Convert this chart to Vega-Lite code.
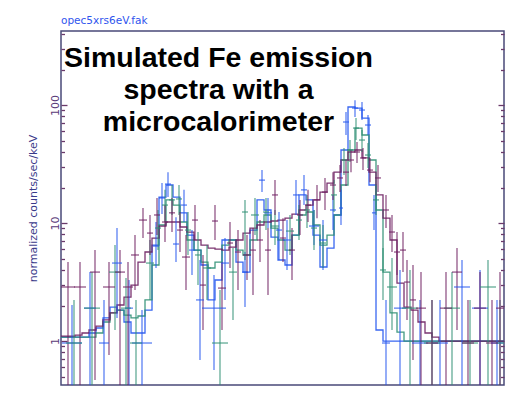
{
"$schema": "https://vega.github.io/schema/vega-lite/v6.json",
"width": 443, "height": 354,
"autosize": "none",
"padding": {"left": 61, "top": 31, "right": 18, "bottom": 30},
"background": "white",
"view": {"stroke": "#4a4a78", "strokeWidth": 1.5},
"title": {"text": "opec5xrs6eV.fak", "anchor": "start", "frame": "group", "color": "#2f55ee", "font": "DejaVu Sans", "fontSize": 10.5, "fontWeight": "normal", "offset": 5},
"config": {"axis": {"grid": false, "labelFont": "DejaVu Sans", "titleFont": "DejaVu Sans"}},
"resolve": {"axis": {"y": "independent"}},
"datasets": {
"model": [
{"e":6.5800,"b":1.08,"g":1.08,"p":1.10},
{"e":6.5828,"b":1.08,"g":1.08,"p":1.10},
{"e":6.5856,"b":1.08,"g":1.08,"p":1.12},
{"e":6.5884,"b":1.08,"g":1.08,"p":1.17},
{"e":6.5912,"b":1.17,"g":1.08,"p":1.24},
{"e":6.5940,"b":1.29,"g":1.17,"p":1.34},
{"e":6.5968,"b":1.57,"g":1.45,"p":1.51},
{"e":6.5996,"b":1.94,"g":1.73,"p":1.73},
{"e":6.6024,"b":1.83,"g":1.83,"p":2.02},
{"e":6.6052,"b":1.45,"g":1.66,"p":2.36},
{"e":6.6080,"b":1.17,"g":1.57,"p":2.98},
{"e":6.6108,"b":1.17,"g":1.63,"p":4.67},
{"e":6.6136,"b":1.83,"g":2.23,"p":5.68},
{"e":6.6164,"b":6.51,"g":4.41,"p":7.46},
{"e":6.6192,"b":16.6,"g":9.62,"p":9.43},
{"e":6.6220,"b":21.0,"g":15.7,"p":10.2},
{"e":6.6248,"b":16.6,"g":14.2,"p":10.2},
{"e":6.6276,"b":12.2,"g":10.2,"p":9.25},
{"e":6.6304,"b":7.91,"g":7.18,"p":8.39},
{"e":6.6332,"b":5.90,"g":5.90,"p":7.18},
{"e":6.6360,"b":4.41,"g":4.67,"p":6.51},
{"e":6.6388,"b":2.23,"g":4.16,"p":6.14},
{"e":6.6416,"b":3.29,"g":4.67,"p":6.02},
{"e":6.6444,"b":7.18,"g":6.51,"p":5.90},
{"e":6.6472,"b":7.18,"g":7.18,"p":6.26},
{"e":6.6500,"b":4.67,"g":5.90,"p":7.18},
{"e":6.6528,"b":3.84,"g":5.36,"p":8.22},
{"e":6.6556,"b":8.72,"g":7.18,"p":9.07},
{"e":6.6584,"b":15.7,"g":10.2,"p":9.62},
{"e":6.6612,"b":12.9,"g":11.7,"p":10.2},
{"e":6.6640,"b":7.61,"g":9.07,"p":10.4},
{"e":6.6668,"b":4.86,"g":7.18,"p":10.6},
{"e":6.6696,"b":4.41,"g":5.90,"p":11.0},
{"e":6.6724,"b":7.91,"g":7.91,"p":11.9},
{"e":6.6752,"b":17.3,"g":11.7,"p":12.9},
{"e":6.6780,"b":15.7,"g":12.4,"p":14.2},
{"e":6.6808,"b":7.91,"g":9.62,"p":15.7},
{"e":6.6836,"b":4.24,"g":6.51,"p":18.3},
{"e":6.6864,"b":6.14,"g":7.91,"p":21.8},
{"e":6.6892,"b":11.7,"g":11.7,"p":27.0},
{"e":6.6920,"b":41.6,"g":21.0,"p":34.2},
{"e":6.6948,"b":96.2,"g":41.6,"p":40.0},
{"e":6.6976,"b":94.3,"g":63.8,"p":41.6},
{"e":6.7004,"b":77.6,"g":55.7,"p":35.6},
{"e":6.7032,"b":21.0,"g":34.2,"p":27.0},
{"e":6.7060,"b":1.24,"g":12.9,"p":17.3},
{"e":6.7088,"b":1.0,"g":3.84,"p":11.0},
{"e":6.7116,"b":1.0,"g":1.73,"p":7.18},
{"e":6.7144,"b":1.0,"g":1.19,"p":3.1},
{"e":6.7172,"b":1.0,"g":1.0,"p":1.94},
{"e":6.7200,"b":1.0,"g":1.0,"p":1.83},
{"e":6.7228,"b":1.0,"g":1.0,"p":1.45},
{"e":6.7256,"b":1.0,"g":1.0,"p":1.17},
{"e":6.7284,"b":1.0,"g":1.0,"p":1.08},
{"e":6.7312,"b":1.0,"g":1.0,"p":1.0},
{"e":6.7572,"b":1.0,"g":1.0,"p":1.0}
],
"pts": [
{"s":"b","x":6.5844,"x1":6.5804,"x2":6.5884,"v":0.962,"lo":0.3,"hi":2.02},
{"s":"b","x":6.5916,"x1":6.5892,"x2":6.5940,"v":1.90,"lo":0.3,"hi":3.84},
{"s":"b","x":6.5972,"x1":6.5952,"x2":6.5992,"v":0.962,"lo":0.3,"hi":2.23},
{"s":"b","x":6.6024,"x1":6.6004,"x2":6.6044,"v":4.58,"lo":1.57,"hi":9.07},
{"s":"b","x":6.6072,"x1":6.6056,"x2":6.6088,"v":1.90,"lo":0.424,"hi":3.29},
{"s":"b","x":6.6124,"x1":6.6084,"x2":6.6164,"v":0.962,"lo":0.3,"hi":1.83},
{"s":"b","x":6.6180,"x1":6.6168,"x2":6.6192,"v":6.38,"lo":4.16,"hi":10.2},
{"s":"b","x":6.6204,"x1":6.6192,"x2":6.6216,"v":16.3,"lo":11.9,"hi":21.8},
{"s":"b","x":6.6228,"x1":6.6216,"x2":6.6240,"v":21.4,"lo":16.6,"hi":27.0},
{"s":"b","x":6.6260,"x1":6.6248,"x2":6.6272,"v":6.64,"lo":4.67,"hi":11.2},
{"s":"b","x":6.6292,"x1":6.6280,"x2":6.6304,"v":14.2,"lo":10.2,"hi":19.1},
{"s":"b","x":6.6324,"x1":6.6312,"x2":6.6336,"v":5.90,"lo":3.63,"hi":8.72},
{"s":"b","x":6.6356,"x1":6.6340,"x2":6.6372,"v":2.23,"lo":0.69,"hi":4.86},
{"s":"b","x":6.6412,"x1":6.6364,"x2":6.6460,"v":1.90,"lo":0.568,"hi":3.63},
{"s":"b","x":6.6456,"x1":6.6440,"x2":6.6472,"v":4.58,"lo":2.23,"hi":7.46},
{"s":"b","x":6.6536,"x1":6.6524,"x2":6.6548,"v":3.84,"lo":1.94,"hi":5.68},
{"s":"b","x":6.6604,"x1":6.6592,"x2":6.6616,"v":23.1,"lo":18.3,"hi":28.1},
{"s":"b","x":6.6628,"x1":6.6612,"x2":6.6644,"v":12.2,"lo":9.07,"hi":16.3},
{"s":"b","x":6.6672,"x1":6.6660,"x2":6.6684,"v":8.72,"lo":4.86,"hi":12.4},
{"s":"b","x":6.6704,"x1":6.6688,"x2":6.6720,"v":7.18,"lo":4.0,"hi":10.6},
{"s":"b","x":6.6740,"x1":6.6728,"x2":6.6752,"v":17.3,"lo":11.7,"hi":23.1},
{"s":"b","x":6.6772,"x1":6.6760,"x2":6.6784,"v":19.1,"lo":14.2,"hi":25.5},
{"s":"b","x":6.6812,"x1":6.6792,"x2":6.6832,"v":9.43,"lo":6.51,"hi":12.9},
{"s":"b","x":6.6848,"x1":6.6832,"x2":6.6864,"v":7.18,"lo":4.0,"hi":10.6},
{"s":"b","x":6.6888,"x1":6.6876,"x2":6.6900,"v":12.9,"lo":8.72,"hi":17.3},
{"s":"b","x":6.6920,"x1":6.6912,"x2":6.6928,"v":13.4,"lo":9.62,"hi":19.1},
{"s":"b","x":6.6940,"x1":6.6928,"x2":6.6952,"v":71.8,"lo":55.7,"hi":87.3},
{"s":"b","x":6.6976,"x1":6.6964,"x2":6.6988,"v":94.3,"lo":79.1,"hi":110},
{"s":"b","x":6.7004,"x1":6.6992,"x2":6.7016,"v":90.7,"lo":74.6,"hi":106},
{"s":"b","x":6.7028,"x1":6.7016,"x2":6.7040,"v":67.7,"lo":55.7,"hi":82.3},
{"s":"b","x":6.7052,"x1":6.7044,"x2":6.7060,"v":12.2,"lo":8.72,"hi":17.3},
{"s":"b","x":6.7100,"x1":6.7084,"x2":6.7116,"v":0.962,"lo":0.3,"hi":2.23},
{"s":"b","x":6.7156,"x1":6.7132,"x2":6.7180,"v":1.90,"lo":0.3,"hi":4.0},
{"s":"b","x":6.7236,"x1":6.7204,"x2":6.7268,"v":0.962,"lo":0.3,"hi":2.23},
{"s":"b","x":6.7316,"x1":6.7284,"x2":6.7348,"v":0.962,"lo":0.3,"hi":2.23},
{"s":"b","x":6.7404,"x1":6.7372,"x2":6.7436,"v":2.87,"lo":0.3,"hi":4.86},
{"s":"b","x":6.7476,"x1":6.7444,"x2":6.7508,"v":1.90,"lo":0.3,"hi":4.0},
{"s":"b","x":6.7544,"x1":6.7520,"x2":6.7568,"v":0.962,"lo":0.3,"hi":2.23},
{"s":"g","x":6.5852,"x1":6.5820,"x2":6.5884,"v":0.962,"lo":0.3,"hi":2.23},
{"s":"g","x":6.5924,"x1":6.5892,"x2":6.5956,"v":1.90,"lo":0.3,"hi":3.84},
{"s":"g","x":6.6016,"x1":6.5992,"x2":6.6040,"v":3.84,"lo":1.24,"hi":6.51},
{"s":"g","x":6.6060,"x1":6.6040,"x2":6.6080,"v":1.90,"lo":0.384,"hi":3.42},
{"s":"g","x":6.6100,"x1":6.6076,"x2":6.6124,"v":0.962,"lo":0.3,"hi":2.23},
{"s":"g","x":6.6156,"x1":6.6140,"x2":6.6172,"v":4.58,"lo":2.23,"hi":7.18},
{"s":"g","x":6.6188,"x1":6.6176,"x2":6.6200,"v":9.07,"lo":5.90,"hi":12.9},
{"s":"g","x":6.6216,"x1":6.6204,"x2":6.6228,"v":14.2,"lo":10.2,"hi":19.1},
{"s":"g","x":6.6244,"x1":6.6232,"x2":6.6256,"v":15.7,"lo":11.7,"hi":21.0},
{"s":"g","x":6.6272,"x1":6.6260,"x2":6.6284,"v":16.0,"lo":11.7,"hi":21.0},
{"s":"g","x":6.6308,"x1":6.6296,"x2":6.6320,"v":8.72,"lo":5.36,"hi":12.4},
{"s":"g","x":6.6348,"x1":6.6336,"x2":6.6360,"v":5.36,"lo":2.98,"hi":8.39},
{"s":"g","x":6.6384,"x1":6.6368,"x2":6.6400,"v":4.16,"lo":2.23,"hi":6.51},
{"s":"g","x":6.6436,"x1":6.6404,"x2":6.6468,"v":0.962,"lo":0.3,"hi":2.71},
{"s":"g","x":6.6488,"x1":6.6472,"x2":6.6504,"v":3.84,"lo":1.51,"hi":6.14},
{"s":"g","x":6.6536,"x1":6.6524,"x2":6.6548,"v":12.4,"lo":4.86,"hi":15.7},
{"s":"g","x":6.6576,"x1":6.6560,"x2":6.6592,"v":11.7,"lo":7.91,"hi":16.3},
{"s":"g","x":6.6620,"x1":6.6608,"x2":6.6632,"v":12.4,"lo":8.72,"hi":16.3},
{"s":"g","x":6.6656,"x1":6.6640,"x2":6.6672,"v":9.43,"lo":6.51,"hi":12.9},
{"s":"g","x":6.6716,"x1":6.6700,"x2":6.6732,"v":8.55,"lo":5.36,"hi":11.7},
{"s":"g","x":6.6752,"x1":6.6740,"x2":6.6764,"v":10.6,"lo":7.18,"hi":14.2},
{"s":"g","x":6.6784,"x1":6.6772,"x2":6.6796,"v":12.9,"lo":9.07,"hi":17.3},
{"s":"g","x":6.6812,"x1":6.6800,"x2":6.6824,"v":9.07,"lo":5.90,"hi":12.9},
{"s":"g","x":6.6848,"x1":6.6836,"x2":6.6860,"v":6.77,"lo":4.16,"hi":9.62},
{"s":"g","x":6.6892,"x1":6.6880,"x2":6.6904,"v":17.3,"lo":12.4,"hi":23.1},
{"s":"g","x":6.6932,"x1":6.6920,"x2":6.6944,"v":34.2,"lo":25.5,"hi":43.2},
{"s":"g","x":6.6956,"x1":6.6944,"x2":6.6968,"v":41.6,"lo":32.9,"hi":50.5},
{"s":"g","x":6.6980,"x1":6.6968,"x2":6.6992,"v":63.8,"lo":50.5,"hi":77.6},
{"s":"g","x":6.7004,"x1":6.6992,"x2":6.7016,"v":50.5,"lo":40.0,"hi":61.4},
{"s":"g","x":6.7028,"x1":6.7016,"x2":6.7040,"v":37.7,"lo":29.2,"hi":47.6},
{"s":"g","x":6.7060,"x1":6.7048,"x2":6.7072,"v":15.7,"lo":11.7,"hi":21.0},
{"s":"g","x":6.7088,"x1":6.7076,"x2":6.7100,"v":4.0,"lo":2.23,"hi":6.14},
{"s":"g","x":6.7124,"x1":6.7104,"x2":6.7144,"v":2.87,"lo":1.24,"hi":5.05},
{"s":"g","x":6.7196,"x1":6.7164,"x2":6.7228,"v":1.90,"lo":0.3,"hi":4.0},
{"s":"g","x":6.7284,"x1":6.7252,"x2":6.7316,"v":0.962,"lo":0.3,"hi":2.23},
{"s":"g","x":6.7364,"x1":6.7332,"x2":6.7396,"v":1.90,"lo":0.3,"hi":3.84},
{"s":"g","x":6.7436,"x1":6.7404,"x2":6.7468,"v":0.962,"lo":0.3,"hi":2.23},
{"s":"g","x":6.7508,"x1":6.7476,"x2":6.7540,"v":2.87,"lo":0.3,"hi":4.86},
{"s":"g","x":6.7556,"x1":6.7540,"x2":6.7572,"v":0.962,"lo":0.3,"hi":2.23},
{"s":"p","x":6.5828,"x1":6.5800,"x2":6.5856,"v":2.87,"lo":0.3,"hi":4.67},
{"s":"p","x":6.5876,"x1":6.5852,"x2":6.5900,"v":2.87,"lo":0.3,"hi":4.67},
{"s":"p","x":6.5936,"x1":6.5916,"x2":6.5956,"v":3.84,"lo":0.467,"hi":5.90},
{"s":"p","x":6.5992,"x1":6.5968,"x2":6.6016,"v":2.87,"lo":0.761,"hi":4.67},
{"s":"p","x":6.6036,"x1":6.6016,"x2":6.6056,"v":3.84,"lo":0.3,"hi":5.90},
{"s":"p","x":6.6068,"x1":6.6048,"x2":6.6088,"v":2.87,"lo":0.3,"hi":4.67},
{"s":"p","x":6.6096,"x1":6.6080,"x2":6.6112,"v":5.36,"lo":2.71,"hi":7.91},
{"s":"p","x":6.6128,"x1":6.6112,"x2":6.6144,"v":10.6,"lo":7.46,"hi":13.4},
{"s":"p","x":6.6156,"x1":6.6144,"x2":6.6168,"v":8.22,"lo":5.36,"hi":11.7},
{"s":"p","x":6.6184,"x1":6.6172,"x2":6.6196,"v":11.7,"lo":7.91,"hi":16.3},
{"s":"p","x":6.6216,"x1":6.6204,"x2":6.6228,"v":10.2,"lo":6.90,"hi":14.2},
{"s":"p","x":6.6244,"x1":6.6232,"x2":6.6256,"v":12.2,"lo":8.39,"hi":16.3},
{"s":"p","x":6.6276,"x1":6.6264,"x2":6.6288,"v":8.72,"lo":5.68,"hi":12.4},
{"s":"p","x":6.6300,"x1":6.6284,"x2":6.6316,"v":5.15,"lo":2.71,"hi":7.91},
{"s":"p","x":6.6336,"x1":6.6324,"x2":6.6348,"v":10.6,"lo":7.18,"hi":14.2},
{"s":"p","x":6.6368,"x1":6.6356,"x2":6.6380,"v":2.98,"lo":1.24,"hi":5.36},
{"s":"p","x":6.6416,"x1":6.6404,"x2":6.6428,"v":10.4,"lo":7.18,"hi":14.2},
{"s":"p","x":6.6444,"x1":6.6428,"x2":6.6460,"v":2.81,"lo":1.24,"hi":4.67},
{"s":"p","x":6.6476,"x1":6.6464,"x2":6.6488,"v":6.77,"lo":4.16,"hi":10.2},
{"s":"p","x":6.6508,"x1":6.6496,"x2":6.6520,"v":5.68,"lo":2.71,"hi":8.72},
{"s":"p","x":6.6544,"x1":6.6528,"x2":6.6560,"v":5.36,"lo":3.29,"hi":7.91},
{"s":"p","x":6.6568,"x1":6.6556,"x2":6.6580,"v":5.90,"lo":2.45,"hi":9.07},
{"s":"p","x":6.6596,"x1":6.6584,"x2":6.6608,"v":7.18,"lo":4.67,"hi":10.6},
{"s":"p","x":6.6628,"x1":6.6616,"x2":6.6640,"v":5.90,"lo":2.45,"hi":9.07},
{"s":"p","x":6.6656,"x1":6.6644,"x2":6.6668,"v":17.3,"lo":11.7,"hi":23.1},
{"s":"p","x":6.6688,"x1":6.6676,"x2":6.6700,"v":7.46,"lo":4.67,"hi":11.0},
{"s":"p","x":6.6724,"x1":6.6712,"x2":6.6736,"v":5.90,"lo":3.29,"hi":9.07},
{"s":"p","x":6.6756,"x1":6.6744,"x2":6.6768,"v":11.7,"lo":7.91,"hi":15.7},
{"s":"p","x":6.6788,"x1":6.6776,"x2":6.6800,"v":14.2,"lo":10.2,"hi":19.1},
{"s":"p","x":6.6824,"x1":6.6812,"x2":6.6836,"v":15.7,"lo":11.0,"hi":21.0},
{"s":"p","x":6.6856,"x1":6.6844,"x2":6.6868,"v":18.3,"lo":12.9,"hi":24.1},
{"s":"p","x":6.6888,"x1":6.6876,"x2":6.6900,"v":21.0,"lo":15.7,"hi":27.0},
{"s":"p","x":6.6916,"x1":6.6904,"x2":6.6928,"v":24.1,"lo":18.3,"hi":31.0},
{"s":"p","x":6.6940,"x1":6.6928,"x2":6.6952,"v":27.0,"lo":20.6,"hi":34.2},
{"s":"p","x":6.6960,"x1":6.6948,"x2":6.6972,"v":34.2,"lo":27.0,"hi":41.6},
{"s":"p","x":6.6984,"x1":6.6972,"x2":6.6996,"v":40.0,"lo":32.2,"hi":48.6},
{"s":"p","x":6.7008,"x1":6.6996,"x2":6.7020,"v":35.6,"lo":28.1,"hi":43.2},
{"s":"p","x":6.7036,"x1":6.7024,"x2":6.7048,"v":28.1,"lo":22.2,"hi":35.6},
{"s":"p","x":6.7068,"x1":6.7056,"x2":6.7080,"v":24.1,"lo":18.3,"hi":31.0},
{"s":"p","x":6.7100,"x1":6.7088,"x2":6.7112,"v":12.9,"lo":9.07,"hi":17.3},
{"s":"p","x":6.7124,"x1":6.7112,"x2":6.7136,"v":8.39,"lo":5.68,"hi":11.7},
{"s":"p","x":6.7144,"x1":6.7132,"x2":6.7156,"v":5.68,"lo":3.63,"hi":8.39},
{"s":"p","x":6.7168,"x1":6.7156,"x2":6.7180,"v":5.90,"lo":3.84,"hi":8.39},
{"s":"p","x":6.7184,"x1":6.7172,"x2":6.7196,"v":3.16,"lo":1.51,"hi":4.86},
{"s":"p","x":6.7208,"x1":6.7196,"x2":6.7220,"v":2.23,"lo":0.69,"hi":4.41},
{"s":"p","x":6.7240,"x1":6.7220,"x2":6.7260,"v":1.90,"lo":0.3,"hi":3.84},
{"s":"p","x":6.7284,"x1":6.7260,"x2":6.7308,"v":0.962,"lo":0.3,"hi":2.23},
{"s":"p","x":6.7340,"x1":6.7316,"x2":6.7364,"v":1.90,"lo":0.3,"hi":3.84},
{"s":"p","x":6.7384,"x1":6.7364,"x2":6.7404,"v":3.84,"lo":1.24,"hi":6.14},
{"s":"p","x":6.7428,"x1":6.7404,"x2":6.7452,"v":0.962,"lo":0.3,"hi":2.23},
{"s":"p","x":6.7476,"x1":6.7452,"x2":6.7500,"v":1.90,"lo":0.3,"hi":3.84},
{"s":"p","x":6.7524,"x1":6.7500,"x2":6.7548,"v":0.962,"lo":0.3,"hi":2.23},
{"s":"p","x":6.7556,"x1":6.7540,"x2":6.7572,"v":1.90,"lo":0.3,"hi":3.84}
]
},
"layer": [
{
"data": {"name": "model"},
"transform": [{"fold": ["b", "g", "p"], "as": ["s", "v"]}],
"mark": {"type": "line", "interpolate": "step-after", "strokeWidth": 1.3, "opacity": 0.9, "clip": true},
"encoding": {
"x": {"field": "e", "type": "quantitative", "scale": {"domain": [6.58, 6.7572], "nice": false, "zero": false},
"axis": {"title": "channel energy (keV)", "ticks": false, "labels": false, "domain": false, "titleFontSize": 10, "titleFontWeight": "normal", "titleColor": "#2a2a4a", "titlePadding": 8}},
"y": {"field": "v", "type": "quantitative", "scale": {"type": "log", "domain": [0.424, 424], "nice": false},
"axis": {"title": "normalized counts/sec/keV", "orient": "left", "domain": false,
"values": [0.5,0.6,0.7,0.8,0.9,1,2,3,4,5,6,7,8,9,10,20,30,40,50,60,70,80,90,100,200,300,400],
"labelExpr": "datum.value == 1 ? '1' : datum.value == 10 ? '10' : datum.value == 100 ? '100' : ''",
"labelOverlap": false, "labelBound": false, "labelAngle": -90, "labelAlign": "center", "labelBaseline": "bottom",
"labelFontSize": 11, "labelColor": "#5a3a7a", "labelPadding": 6.5,
"tickColor": "#6a3a6a", "tickWidth": 1.3,
"tickSize": {"condition": {"test": "abs(log(datum.value)/LN10 - round(log(datum.value)/LN10)) < 0.001", "value": -6}, "value": -3.5},
"titleFontSize": 11, "titleFontWeight": "normal", "titleColor": "#3a3a8a", "titlePadding": 9}},
"color": {"field": "s", "type": "nominal", "scale": {"domain": ["b", "g", "p"], "range": ["#2456ee", "#2e8f73", "#6d1e60"]}, "legend": null}
}
},
{
"data": {"name": "pts"},
"mark": {"type": "rule", "strokeWidth": 1.3, "opacity": 0.75, "clip": true},
"encoding": {
"x": {"field": "x", "type": "quantitative", "axis": null},
"y": {"field": "lo", "type": "quantitative",
"axis": {"orient": "right", "title": null, "labels": false, "domain": false,
"values": [0.5,0.6,0.7,0.8,0.9,1,2,3,4,5,6,7,8,9,10,20,30,40,50,60,70,80,90,100,200,300,400],
"tickColor": "#6a3a6a", "tickWidth": 1.3,
"tickSize": {"condition": {"test": "abs(log(datum.value)/LN10 - round(log(datum.value)/LN10)) < 0.001", "value": -6}, "value": -3.5}}},
"y2": {"field": "hi"},
"color": {"field": "s", "type": "nominal", "legend": null}
}
},
{
"data": {"name": "pts"},
"mark": {"type": "rule", "strokeWidth": 1.3, "opacity": 0.75, "clip": true},
"encoding": {
"x": {"field": "x1", "type": "quantitative", "axis": null},
"x2": {"field": "x2"},
"y": {"field": "v", "type": "quantitative", "axis": null},
"color": {"field": "s", "type": "nominal", "legend": null}
}
},
{
"data": {"values": [{}]},
"mark": {"type": "text", "font": "Liberation Sans", "fontWeight": "bold", "fontSize": 28.5, "lineHeight": 32, "align": "center", "baseline": "alphabetic", "color": "black"},
"encoding": {
"x": {"datum": 6.643, "type": "quantitative", "axis": null},
"y": {"datum": 210, "type": "quantitative", "axis": null},
"text": {"value": ["Simulated Fe emission", "spectra with a", "microcalorimeter"]}
}
}
]
}
